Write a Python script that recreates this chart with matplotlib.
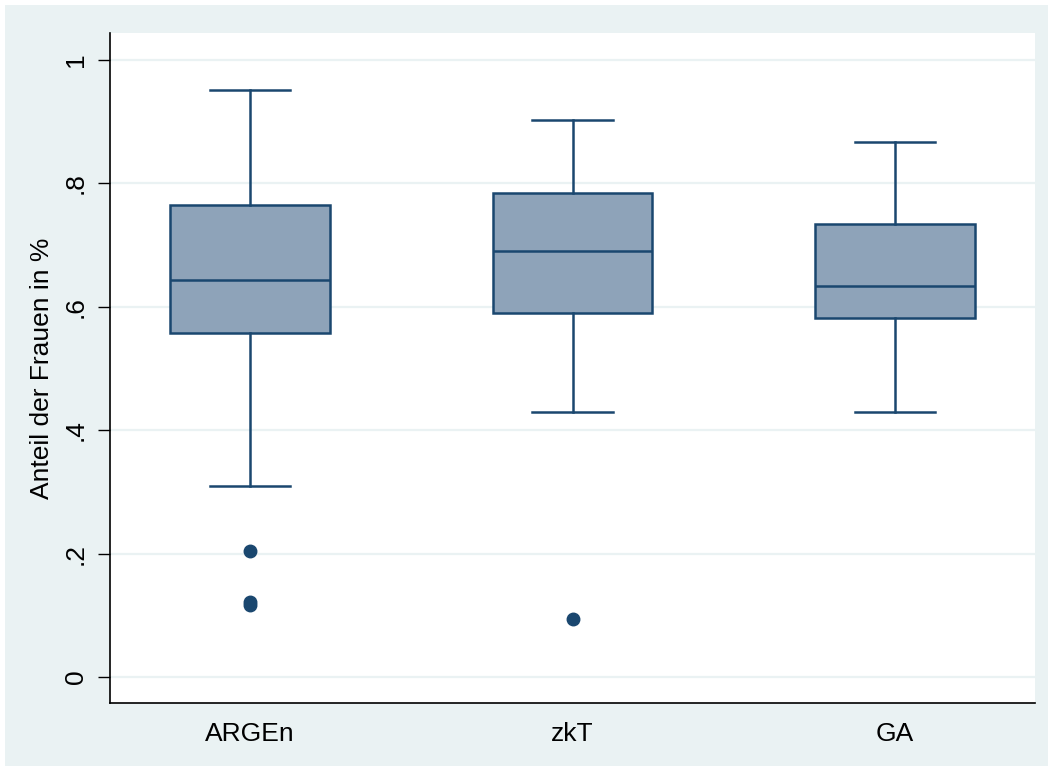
import matplotlib.pyplot as plt
from matplotlib.patches import Rectangle

plt.rcParams['font.family'] = ['Liberation Sans', 'DejaVu Sans']

# Box statistics
groups = ['ARGEn', 'zkT', 'GA']
whislo = [0.310, 0.429, 0.429]
q1 = [0.557, 0.590, 0.582]
med = [0.643, 0.690, 0.634]
q3 = [0.765, 0.784, 0.734]
whishi = [0.951, 0.903, 0.867]
fliers = [[0.204, 0.122, 0.117], [0.094], []]

yticks = [0, 0.2, 0.4, 0.6, 0.8, 1.0]
ytick_labels = ['0', '.2', '.4', '.6', '.8', '1']

bg_color = '#eaf2f3'
navy = '#1a476f'
fill = '#8ea3b9'

stats = []
for i, g in enumerate(groups):
    stats.append(dict(label=g, whislo=whislo[i], q1=q1[i], med=med[i],
                      q3=q3[i], whishi=whishi[i], fliers=fliers[i]))

fig = plt.figure(figsize=(10.53, 7.71), dpi=100)
fig.patch.set_facecolor('white')
fig.patches.append(Rectangle((5 / 1053, 5 / 771), 1 - 10 / 1053, 1 - 10 / 771,
                             transform=fig.transFigure, facecolor=bg_color,
                             edgecolor='none', zorder=-10))

ax = fig.add_axes([110 / 1053, 1 - 703 / 771, 925 / 1053, 670 / 771])
ax.set_facecolor('white')

lw = 1.8
ax.bxp(stats, positions=[1, 2, 3], widths=0.495, patch_artist=True,
       showcaps=True, capwidths=0.248,
       boxprops=dict(facecolor=fill, edgecolor=navy, linewidth=lw),
       medianprops=dict(color=navy, linewidth=lw),
       whiskerprops=dict(color=navy, linewidth=lw),
       capprops=dict(color=navy, linewidth=lw),
       flierprops=dict(marker='o', markerfacecolor=navy, markeredgecolor=navy,
                       markersize=9, linestyle='none'))

ax.set_xlim(0.567, 3.433)
ax.set_ylim(-0.0421, 1.0438)

ax.set_yticks(yticks)
ax.set_yticklabels(ytick_labels, rotation=90, va='center', fontsize=19)
ax.yaxis.grid(True, color=bg_color, linewidth=1.6)
ax.set_axisbelow(True)
ax.tick_params(axis='y', length=9, width=1, pad=7)
ax.tick_params(axis='x', length=0, labelsize=19, pad=14)

for s in ['top', 'right']:
    ax.spines[s].set_visible(False)
for s in ['left', 'bottom']:
    ax.spines[s].set_linewidth(1.2)

ax.set_ylabel('Anteil der Frauen in %', fontsize=19, labelpad=7)

fig.savefig('out.png', dpi=100, facecolor=fig.get_facecolor())
